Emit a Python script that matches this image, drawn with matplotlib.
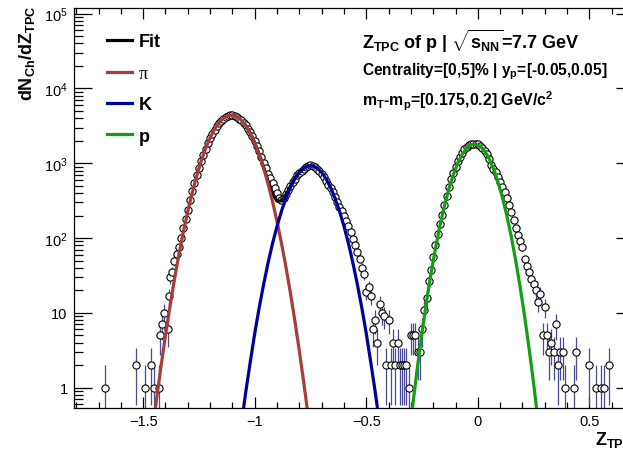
import numpy as np
import matplotlib
matplotlib.use("Agg")
import matplotlib.pyplot as plt
from matplotlib.ticker import MultipleLocator, LogLocator, FuncFormatter, NullFormatter
from matplotlib.lines import Line2D

plt.rcParams['font.family'] = 'Liberation Sans'
plt.rcParams['mathtext.fontset'] = 'custom'
plt.rcParams['mathtext.rm'] = 'Liberation Sans'
plt.rcParams['mathtext.it'] = 'Liberation Sans:italic'
plt.rcParams['mathtext.bf'] = 'Liberation Sans:bold'

# --- data (counts per Z_TPC bin) ---
left_z = [-1.673, -1.534, -1.493, -1.463, -1.453, -1.431, -1.423, -1.415, -1.405,
          -1.389, -1.384, -1.378, -1.371, -1.36, -1.35]
left_counts = [1, 2, 1, 2, 1, 1, 5, 7, 10, 6, 17, 30, 35, 50, 61]

# regular 0.01 bins from -1.34 to 0.39
bin_first = -1.34
bin_width = 0.01
dense_counts = [
    75, 100, 135, 180, 240, 320, 420, 540, 690, 860,
    1060, 1300, 1560, 1850, 2150, 2480, 2800, 3150, 3450, 3700,
    3950, 4150, 4300, 4350, 4380, 4250, 4150, 3950, 3750, 3500,
    3200, 2900, 2600, 2280, 1980, 1700, 1450, 1220, 1020, 860,
    720, 640, 540, 460, 400, 345, 320, 340, 385, 440,
    500, 560, 620, 690, 740, 800, 850, 880, 910, 940,
    920, 890, 850, 790, 720, 650, 580, 520, 460, 410,
    350, 300, 260, 230, 200, 170, 147, 120, 97, 80,
    66, 53, 40, 33, 19, 22, 17, 6, 8, 4,
    13, 10, 9, 2, 8, 2, 4, 2, 4, 2,
    2, 2, 2, 1,
    5, 5, 5, 3, 3, 6, 11, 16, 27, 38,
    55, 80, 115, 155, 205, 275, 370, 480, 610, 750,
    900, 1060, 1230, 1380, 1530, 1650, 1740, 1800, 1830, 1820,
    1800, 1720, 1620, 1480, 1330, 1150, 960, 850, 760, 650,
    560, 480, 410, 340, 280, 220, 175, 135, 110, 92,
    75, 52, 42, 35, 28, 24, 20, 14, 18, 5,
    12, 5, 3, 4, 3, 7, 2, 3, 3, 1,
]

right_z = [0.43, 0.44, 0.50, 0.53, 0.55, 0.565, 0.59]
right_counts = [1, 3, 2, 1, 1, 1, 2]

# --- fit curves, sampled every 0.02 ---
step = 0.02
pi_first = -1.46
pi_fit = [0.238, 0.699, 1.93, 5.0, 12.1, 27.8, 59.6, 120, 228, 406, 679, 1068, 1578,
          2189, 2854, 3495, 4023, 4349, 4418, 4215, 3779, 3184, 2519, 1873, 1308, 858,
          529, 307, 167, 85.3, 41.0, 18.5, 7.8, 3.1, 1.17, 0.41, 0.136]
k_first = -1.06
k_fit = [0.327, 0.88, 2.2, 5.3, 11.7, 24.1, 46.8, 85, 144, 229, 341, 475, 619, 755, 862,
         921, 921, 862, 755, 619, 475, 341, 229, 144, 85, 46.8, 24.1, 11.7, 5.3, 2.2,
         0.88, 0.327]
p_first = -0.31
p_fit = [0.19, 0.64, 1.96, 5.5, 14.1, 33.4, 72.6, 145, 267, 452, 702, 1003, 1318, 1593,
         1769, 1807, 1696, 1464, 1162, 848, 569, 351, 199, 104, 49.7, 21.9, 8.9, 3.3,
         1.15, 0.357]
tot_first = -1.04
tot_fit = [3185, 2521, 1878, 1320, 882, 576, 392, 311, 314, 382, 494, 627, 758, 863, 921]

c_pi = '#a83c3c'
c_k = '#00009a'
c_p = '#12a012'


def grid(first, n, d):
    return first + d * np.arange(n)


z_all = np.concatenate([left_z, grid(bin_first, len(dense_counts), bin_width), right_z])
n_all = np.array(left_counts + dense_counts + right_counts, dtype=float)
err = np.sqrt(n_all)

fig = plt.figure(figsize=(6.23, 4.52), dpi=100)
ax = fig.add_axes([74 / 623, 43 / 452, 560 / 623, 400 / 452])

ax.errorbar(z_all, n_all, yerr=err, fmt='o', ms=5.2, mfc='white', mec='black', mew=0.8,
            ecolor='#4a4a9a', elinewidth=0.9, capsize=0, zorder=2)

lw = 2.3
ax.plot(grid(tot_first, len(tot_fit), step), tot_fit, color='black', lw=lw, zorder=3)
ax.plot(grid(pi_first, len(pi_fit), step), pi_fit, color=c_pi, lw=lw, zorder=4)
ax.plot(grid(k_first, len(k_fit), step), k_fit, color=c_k, lw=lw, zorder=4)
ax.plot(grid(p_first, len(p_fit), step), p_fit, color=c_p, lw=lw, zorder=4)

ax.set_yscale('log')
ax.set_xlim(-1.81, 0.70)
ax.set_ylim(0.535, 1.19e5)

ax.xaxis.set_major_locator(MultipleLocator(0.5))
ax.xaxis.set_minor_locator(MultipleLocator(0.1))
ax.xaxis.set_major_formatter(FuncFormatter(lambda v, p: ('%g' % v).replace('-', '\u2212')))
ax.yaxis.set_major_locator(LogLocator(base=10))
ax.yaxis.set_minor_locator(LogLocator(base=10, subs=np.arange(2, 10)))
ax.yaxis.set_minor_formatter(NullFormatter())


def ylab(v, p):
    e = int(round(np.log10(v)))
    if e == 0:
        return '1'
    if e == 1:
        return '10'
    return r'$10^{%d}$' % e


ax.yaxis.set_major_formatter(FuncFormatter(ylab))
ax.tick_params(which='both', direction='in', top=True, right=True, labelsize=10.5, width=0.9)
ax.tick_params(axis='x', which='major', length=8, pad=4.5)
ax.tick_params(axis='x', which='minor', length=4)
ax.tick_params(axis='y', which='major', length=13, pad=4.5)
ax.tick_params(axis='y', which='minor', length=6.5)
for s in ax.spines.values():
    s.set_linewidth(0.9)

handles = [Line2D([], [], color='black', lw=lw), Line2D([], [], color=c_pi, lw=lw),
           Line2D([], [], color=c_k, lw=lw), Line2D([], [], color=c_p, lw=lw)]
leg = ax.legend(handles, ['Fit', '\u03c0', 'K', 'p'], loc='upper left',
                bbox_to_anchor=(0.030, 0.977), frameon=False, fontsize=13,
                handlelength=1.4, handletextpad=0.35, labelspacing=0.80)
for t in leg.get_texts():
    t.set_fontweight('bold')
leg.get_texts()[1].set_fontweight('normal')
leg.get_texts()[1].set_family('Liberation Serif')

fig.text(362 / 623, 1 - 41 / 452, r'$\mathbf{Z_{TPC}}$ of p | $\sqrt{\mathbf{s_{NN}}}$=7.7 GeV',
         fontsize=13, fontweight='bold', ha='left', va='center')
fig.text(362 / 623, 1 - 72 / 452, r'Centrality=[0,5]% | y$_{\mathbf{p}}$=[-0.05,0.05]',
         fontsize=11.2, fontweight='bold', ha='left', va='center')
fig.text(362 / 623, 1 - 101 / 452, r'm$_{\mathbf{T}}$-m$_{\mathbf{p}}$=[0.175,0.2] GeV/c$^{\mathbf{2}}$',
         fontsize=11.4, fontweight='bold', ha='left', va='center')

fig.text(27 / 623, 1 - 6 / 452, r'$\mathbf{dN_{Ch}/dZ_{TPC}}$', fontsize=13,
         rotation=90, ha='center', va='top')
fig.text(595 / 623, 1 - 440 / 452, r'$\mathbf{Z_{TPC}}$', fontsize=13, ha='left', va='center')

fig.savefig('out.png', dpi=100)
